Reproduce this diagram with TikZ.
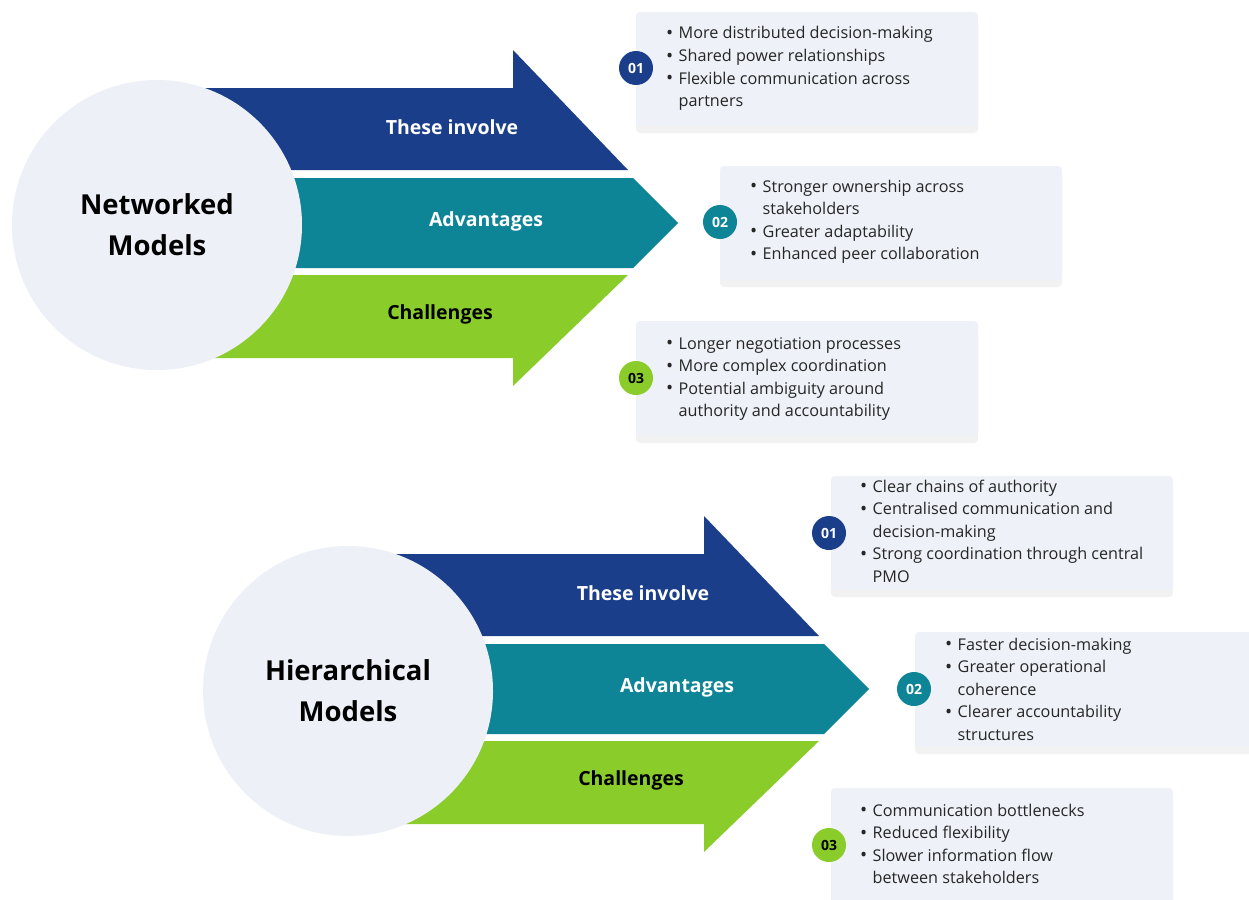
\documentclass[tikz,border=0pt]{standalone}
\usepackage{fontspec}
\setmainfont{Open Sans}
\usetikzlibrary{shadows}
\definecolor{cblue}{HTML}{1B3E8A}
\definecolor{cteal}{HTML}{0E8497}
\definecolor{cgreen}{HTML}{8ACD2B}
\definecolor{cbox}{HTML}{EEF1F8}
\definecolor{ccirc}{HTML}{EDF0F7}
\definecolor{ctext}{HTML}{262626}
\newcommand{\bl}{\makebox[12.5pt][l]{\raisebox{-0.6pt}{\fontsize{19}{19}\selectfont\textbullet}}}
\tikzset{
  bigcirc/.style={circle, fill=ccirc, minimum size=290pt, inner sep=0pt, font=\fontsize{27.5}{41}\selectfont\bfseries, align=center, text=black},
  arrlabel/.style={font=\fontsize{19.5}{22}\selectfont\bfseries},
  infobox/.style={fill=cbox, rounded corners=4pt, drop shadow={shadow xshift=0pt, shadow yshift=-7pt, opacity=0.05, fill=black}},
  listtext/.style={anchor=base west, inner sep=0pt, font=\fontsize{16.2}{22.6}\selectfont, text=ctext},
  badge/.style={circle, minimum size=34pt, inner sep=0pt, text=white, font=\fontsize{14}{14}\selectfont\bfseries}
}
\begin{document}
\begin{tikzpicture}[x=1pt,y=-1pt]
\useasboundingbox (0,0) rectangle (1249,899);
\fill[white] (0,0) rectangle (1249,899);

% ---------- group 1 ----------
\fill[cblue]  (160,88) -- (513,88) -- (513,50) -- (628,170) -- (160,170) -- cycle;
\fill[cteal]  (160,178) -- (633,178) -- (678,223) -- (633,268) -- (160,268) -- cycle;
\fill[cgreen] (160,275) -- (628,275) -- (513,386) -- (513,358) -- (160,358) -- cycle;
\node[bigcirc] (c1) at (157,225) {Networked\\Models};
\node[arrlabel, text=white] (a1) at (452,127) {These involve};
\node[arrlabel, text=white] (a2) at (486,221) {Advantages};
\node[arrlabel, text=black] (a3) at (440,314) {Challenges};

% ---------- group 2 ----------
\begin{scope}[shift={(191,466)}]
\fill[cblue]  (160,88) -- (513,88) -- (513,50) -- (628,170) -- (160,170) -- cycle;
\fill[cteal]  (160,178) -- (633,178) -- (678,223) -- (633,268) -- (160,268) -- cycle;
\fill[cgreen] (160,275) -- (628,275) -- (513,386) -- (513,358) -- (160,358) -- cycle;
\node[bigcirc] (c2) at (157,225) {Hierarchical\\Models};
\node[arrlabel, text=white] (b1) at (452,127) {These involve};
\node[arrlabel, text=white] (b2) at (486,221) {Advantages};
\node[arrlabel, text=black] (b3) at (440,314) {Challenges};
\end{scope}

% ---------- boxes group 1 ----------
\fill[infobox] (636,12) rectangle (978,126);
\node[listtext] (t1) at (666,39) {\begin{tabular}[t]{@{}l@{}l@{}}
\bl & More distributed decision-making\\
\bl & Shared power relationships\\
\bl & Flexible communication across\\
 & partners\end{tabular}};
\node[badge, fill=cblue] (n1) at (636,68) {01};

\fill[infobox] (720,166) rectangle (1062,280);
\node[listtext] (t2) at (750,192) {\begin{tabular}[t]{@{}l@{}l@{}}
\bl & Stronger ownership across\\
 & stakeholders\\
\bl & Greater adaptability\\
\bl & Enhanced peer collaboration\end{tabular}};
\node[badge, fill=cteal] (n2) at (720,222) {02};

\fill[infobox] (636,321) rectangle (978,436);
\node[listtext] (t3) at (666,349) {\begin{tabular}[t]{@{}l@{}l@{}}
\bl & Longer negotiation processes\\
\bl & More complex coordination\\
\bl & Potential ambiguity around\\
 & authority and accountability\end{tabular}};
\node[badge, fill=cgreen, text=black] (n3) at (636,378) {03};

% ---------- boxes group 2 ----------
\fill[infobox] (831,476) rectangle (1173,590);
\node[listtext] (t4) at (860,492) {\begin{tabular}[t]{@{}l@{}l@{}}
\bl & Clear chains of authority\\
\bl & Centralised communication and\\
 & decision-making\\
\bl & Strong coordination through central\\
 & PMO\end{tabular}};
\node[badge, fill=cblue] (n4) at (829,533) {01};

\fill[infobox] (915,632) rectangle (1262,747);
\node[listtext] (t5) at (945,650) {\begin{tabular}[t]{@{}l@{}l@{}}
\bl & Faster decision-making\\
\bl & Greater operational\\
 & coherence\\
\bl & Clearer accountability\\
 & structures\end{tabular}};
\node[badge, fill=cteal] (n5) at (914,689) {02};

\fill[infobox] (831,788) rectangle (1173,912);
\node[listtext] (t6) at (860,816) {\begin{tabular}[t]{@{}l@{}l@{}}
\bl & Communication bottlenecks\\
\bl & Reduced flexibility\\
\bl & Slower information flow\\
 & between stakeholders\end{tabular}};
\node[badge, fill=cgreen, text=black] (n6) at (829,845) {03};
\end{tikzpicture}
\end{document}
